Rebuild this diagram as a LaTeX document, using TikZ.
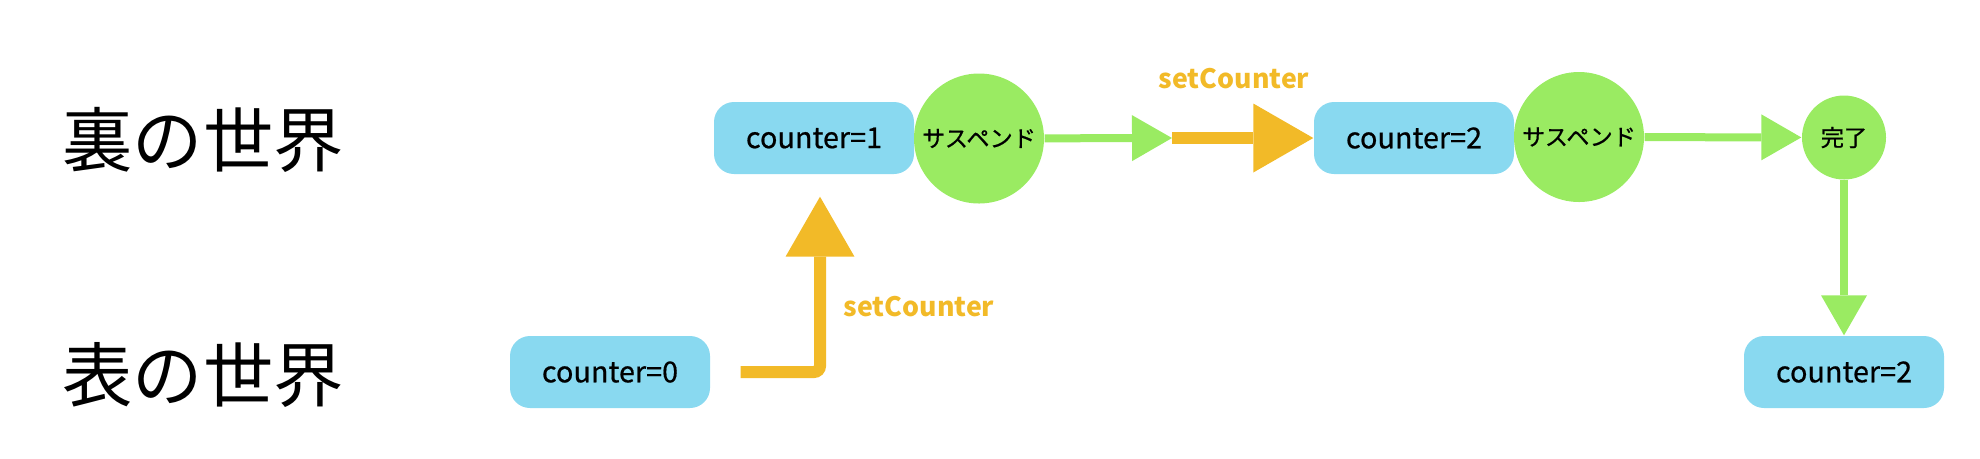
\documentclass[tikz,border=0pt]{standalone}
\usepackage{fontspec}
\setmainfont{Noto Sans CJK JP}
\newfontfamily\medfont{Noto Sans CJK JP}[FakeBold=0.6]
\usetikzlibrary{arrows.meta,positioning}
\definecolor{boxblue}{RGB}{137,217,240}
\definecolor{resgreen}{RGB}{154,235,98}
\definecolor{setyellow}{RGB}{242,186,40}

\begin{document}
\begin{tikzpicture}[
    countbox/.style={fill=boxblue,rounded corners=0.2cm,minimum width=2cm,minimum height=0.72cm,inner sep=0pt,font=\medfont\fontsize{8.2}{10}\selectfont},
    suspend/.style={fill=resgreen,circle,inner sep=0pt,minimum size=1.3cm,font=\medfont\fontsize{6.6}{8}\selectfont},
    setarrow/.style={draw=setyellow,line width=0.12cm,-{Triangle[length=0.6cm,width=0.69cm,line width=0pt]}},
    resarrow/.style={draw=resgreen,line width=0.08cm,-{Triangle[length=0.4cm,width=0.46cm,line width=0pt]}},
    world/.style={font=\fontsize{20}{24}\selectfont},
    setlabel/.style={text=setyellow,inner sep=0pt,font=\bfseries\fontsize{7.6}{10}\selectfont}]
    
    \useasboundingbox (0, 0) rectangle (19.8, -4.58);
    
    \node[world](ura) at (2.03, -1.40) {裏の世界};
    \node[world](omote) at (2.03, -3.75) {表の世界};
    
    \node[countbox](c0) at (6.10, -3.72) {counter=0};
    \node[countbox](c1) at (8.14, -1.38) {counter=1};
    \node[suspend](s1) at (9.79, -1.385) {サスペンド};
    \node[countbox](c2) at (14.14, -1.38) {counter=2};
    \node[suspend](s2) at (15.79, -1.37) {サスペンド};
    \node[suspend,minimum size=0.84cm](done) at (18.44, -1.375) {完了};
    \node[countbox](c3) at (18.44, -3.72) {counter=2};
    
    \coordinate[right=0.30cm of c0.east](c0go);
    \coordinate (handoff) at (11.72, -1.38);
    
    \node[setlabel,anchor=west](lbl1) at (8.43, -3.07) {setCounter};
    \node[setlabel](lbl2) at (12.34, -0.79) {setCounter};
    
    \draw[setarrow,rounded corners=0.06cm,shorten >=0.22cm] (c0go) -| ([xshift=0.06cm]c1.south);
    \draw[resarrow] (s1) -- (handoff);
    \draw[setarrow] (handoff) -- (c2);
    \draw[resarrow] (s2) -- (done);
    \draw[resarrow] (done) -- (c3);
    
\end{tikzpicture}
\end{document}
